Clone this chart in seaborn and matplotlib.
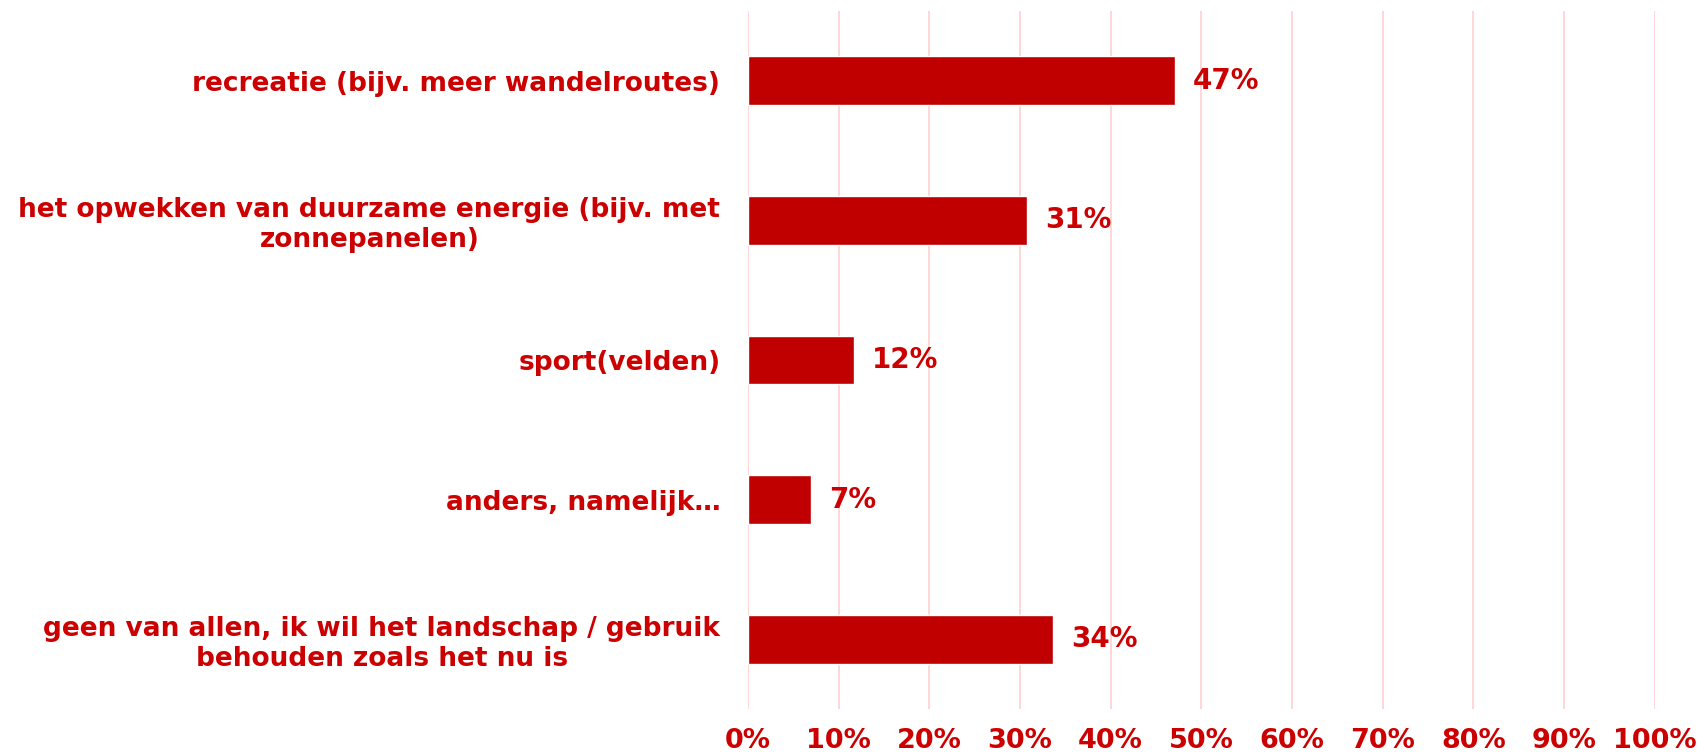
import numpy as np
import matplotlib
matplotlib.use("Agg")
import matplotlib.pyplot as plt
import seaborn as sns
import pandas as pd

# survey answers (share of respondents, %)
categories = [
    "recreatie (bijv. meer wandelroutes)",
    "het opwekken van duurzame energie (bijv. met\nzonnepanelen)",
    "sport(velden)",
    "anders, namelijk…",
    "geen van allen, ik wil het landschap / gebruik\nbehouden zoals het nu is",
]
values = [47.1, 30.8, 11.7, 6.9, 33.6]
ticks = list(range(0, 101, 10))
tick_labels = [f"{t}%" for t in ticks]

bar_color = "#C00000"
text_color = "#CC0000"
grid_color = "#FFD0D0"

df = pd.DataFrame({"cat": categories, "val": values})

sns.set_style("white")
plt.rcParams["font.family"] = ["DejaVu Sans"]
plt.rcParams["font.weight"] = "bold"

fig = plt.figure(figsize=(17.04, 7.56), dpi=100)
ax = fig.add_axes([0.439, 0.0622, 0.532, 0.9232])

sns.barplot(data=df, x="val", y="cat", orient="h", color=bar_color,
            saturation=1, width=0.35, ax=ax, zorder=3)

ax.set_xlim(0, 100)
ax.set_xticks(ticks)
ax.set_xticklabels(tick_labels)
ax.grid(axis="x", color=grid_color, linewidth=1.2, zorder=0)
ax.grid(axis="y", visible=False)
ax.set_axisbelow(True)
for s in ax.spines.values():
    s.set_visible(False)

ax.tick_params(axis="x", length=0, pad=14, labelsize=19.5, labelcolor=text_color)
ax.tick_params(axis="y", length=0, pad=20, labelsize=19, labelcolor=text_color)
for lab in ax.get_xticklabels() + ax.get_yticklabels():
    lab.set_fontweight("bold")
for lab in ax.get_yticklabels():
    lab.set_multialignment("center")

ax.set_xlabel("")
ax.set_ylabel("")

ax.bar_label(ax.containers[0], labels=[f"{round(v)}%" for v in values],
             padding=13, fontsize=20, fontweight="bold", color=text_color)

fig.savefig("out.png", dpi=100)
